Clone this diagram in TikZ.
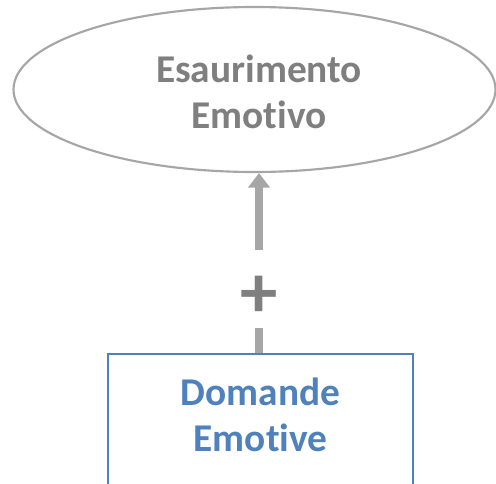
\documentclass[tikz,border=0pt]{standalone}
\usepackage{fontspec}
\setmainfont{Carlito}[Ligatures={NoCommon}]
\usetikzlibrary{shapes.geometric,arrows.meta}
\definecolor{ellgray}{HTML}{A6A6A6}
\definecolor{txtgray}{HTML}{7F7F7F}
\definecolor{boxblue}{HTML}{4F81BD}
\tikzset{
  ellbox/.style={ellipse, draw=ellgray, line width=1.6pt, minimum width=361.5pt, minimum height=123.75pt, inner sep=0pt},
  ellbtext/.style={text=txtgray, font=\fontsize{29.5}{34}\selectfont\bfseries, align=center},
  rectbox/.style={draw=boxblue, line width=1.5pt, minimum width=228.75pt, minimum height=99pt, inner sep=0pt},
  rectbtext/.style={text=boxblue, font=\fontsize{29.5}{34}\selectfont\bfseries, align=center},
  conn/.style={draw=ellgray, line width=5.5pt, -{Triangle[width=16pt,length=11pt]}},
  gapbox/.style={fill=white, minimum height=58pt, minimum width=30pt, inner sep=0pt},
  plusmark/.style={text=txtgray, font=\fontsize{56}{56}\selectfont\bfseries, inner sep=0pt}
}
\begin{document}
\begin{tikzpicture}[x=0.75pt,y=-0.75pt]
\useasboundingbox (0,0) rectangle (496,483);
\fill[white] (0,0) rectangle (496,483);
\node[ellbox] (ell) at (254.5,89.5) {};
\node[ellbtext] (elltext) at (259,92) {Esaurimento\\Emotivo};
\node[rectbox, anchor=north] (box) at (260.5,352.5) {};
\node[rectbtext] (boxtext) at (260.5,415) {Domande\\Emotive};
\coordinate (axis) at (259,289);
\draw[conn] (box.north -| axis) -- (ell.south -| axis);
\node[gapbox] (gap) at (axis) {};
\node[plusmark] (plus) at (259,297) {+};
\end{tikzpicture}
\end{document}
